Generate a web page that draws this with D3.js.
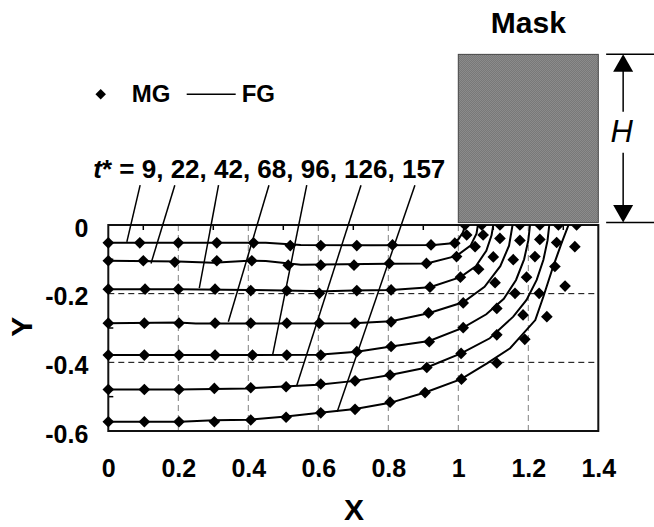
<!DOCTYPE html>
<html>
<head>
<meta charset="utf-8">
<script src="https://cdn.jsdelivr.net/npm/d3@7"></script>
<style>
	body { margin: 0; background: #fff; }
	text { font-family: "Liberation Sans", Arial, sans-serif; font-weight: bold; fill: #000; }
</style>
</head>
<body>
<div id="chart"></div>
<script>
// dimensionless times of the seven fronts
var times = [9, 22, 42, 68, 96, 126, 157];

// MG (markers), one array per front
var mgX = [
	[0, 0.09, 0.2, 0.31, 0.415, 0.52, 0.607, 0.71, 0.812, 0.922, 0.99, 1.024, 1.019],
	[0, 0.1, 0.19, 0.31, 0.41, 0.514, 0.607, 0.702, 0.803, 0.909, 0.995, 1.048, 1.071, 1.067],
	[0, 0.105, 0.2, 0.305, 0.407, 0.51, 0.603, 0.71, 0.808, 0.919, 1.006, 1.058, 1.1, 1.119, 1.119],
	[0, 0.103, 0.202, 0.305, 0.407, 0.51, 0.603, 0.705, 0.808, 0.915, 1.014, 1.105, 1.157, 1.176, 1.176],
	[0, 0.103, 0.202, 0.305, 0.412, 0.51, 0.607, 0.71, 0.808, 0.917, 1.014, 1.11, 1.162, 1.195, 1.219, 1.233, 1.233],
	[0, 0.103, 0.202, 0.303, 0.407, 0.508, 0.607, 0.705, 0.805, 0.91, 1.008, 1.11, 1.185, 1.231, 1.276, 1.281, 1.286],
	[0, 0.103, 0.202, 0.303, 0.407, 0.508, 0.607, 0.705, 0.805, 0.905, 1.009, 1.11, 1.19, 1.253, 1.305, 1.333, 1.338]
];
var mgY = [
	[-0.052, -0.052, -0.052, -0.052, -0.052, -0.06, -0.06, -0.06, -0.058, -0.058, -0.053, -0.029, 0],
	[-0.104, -0.104, -0.108, -0.104, -0.104, -0.117, -0.117, -0.117, -0.112, -0.112, -0.092, -0.063, -0.029, 0],
	[-0.187, -0.187, -0.187, -0.187, -0.191, -0.191, -0.199, -0.191, -0.189, -0.181, -0.152, -0.129, -0.093, -0.039, 0],
	[-0.286, -0.286, -0.286, -0.286, -0.286, -0.286, -0.286, -0.286, -0.282, -0.256, -0.227, -0.168, -0.101, -0.045, 0],
	[-0.379, -0.379, -0.379, -0.379, -0.379, -0.379, -0.379, -0.369, -0.354, -0.34, -0.299, -0.243, -0.199, -0.152, -0.092, -0.042, 0],
	[-0.479, -0.479, -0.479, -0.476, -0.474, -0.471, -0.463, -0.454, -0.437, -0.415, -0.374, -0.32, -0.262, -0.199, -0.121, -0.051, 0],
	[-0.573, -0.573, -0.573, -0.573, -0.568, -0.56, -0.547, -0.537, -0.516, -0.488, -0.449, -0.402, -0.333, -0.267, -0.178, -0.063, 0]
];

// FG (lines), one array per front
var fgX = [
	[0, 0.2, 0.45, 0.55, 0.75, 0.93, 0.975, 1.0, 1.013, 1.02],
	[0, 0.2, 0.3, 0.4, 0.45, 0.55, 0.8, 0.91, 0.995, 1.035, 1.052, 1.056],
	[0, 0.2, 0.4, 0.5, 0.62, 0.7, 0.808, 0.919, 1.006, 1.05, 1.08, 1.095, 1.1],
	[0, 0.2, 0.25, 0.4, 0.7, 0.808, 0.915, 1.014, 1.075, 1.12, 1.145, 1.155],
	[0, 0.3, 0.6, 0.71, 0.808, 0.917, 1.014, 1.08, 1.13, 1.165, 1.188, 1.2, 1.205],
	[0, 0.2, 0.4, 0.6, 0.705, 0.805, 0.91, 1.008, 1.09, 1.157, 1.195, 1.224, 1.243, 1.255, 1.26],
	[0, 0.205, 0.302, 0.405, 0.508, 0.605, 0.705, 0.805, 0.905, 1.008, 1.082, 1.148, 1.22, 1.243, 1.271, 1.295, 1.315]
];
var fgY = [
	[-0.052, -0.052, -0.052, -0.058, -0.059, -0.058, -0.054, -0.042, -0.022, 0],
	[-0.104, -0.106, -0.11, -0.104, -0.105, -0.116, -0.113, -0.112, -0.09, -0.06, -0.025, 0],
	[-0.187, -0.187, -0.189, -0.191, -0.193, -0.191, -0.189, -0.181, -0.152, -0.12, -0.075, -0.03, 0],
	[-0.286, -0.284, -0.287, -0.287, -0.286, -0.28, -0.257, -0.225, -0.18, -0.12, -0.06, 0],
	[-0.379, -0.379, -0.378, -0.369, -0.354, -0.338, -0.299, -0.26, -0.215, -0.16, -0.1, -0.045, 0],
	[-0.479, -0.479, -0.476, -0.465, -0.454, -0.437, -0.415, -0.374, -0.33, -0.267, -0.218, -0.16, -0.102, -0.045, 0],
	[-0.573, -0.573, -0.569, -0.567, -0.558, -0.547, -0.536, -0.518, -0.488, -0.449, -0.403, -0.359, -0.277, -0.209, -0.121, -0.053, 0]
];

// leader lines from the t* label down to each front
var leaderTopX = [0.091, 0.19, 0.315, 0.459, 0.567, 0.722, 0.876];
var leaderTopY = 0.116;
var leaderEndX = [0.053, 0.122, 0.26, 0.343, 0.47, 0.538, 0.654];
var leaderEndY = [-0.049, -0.112, -0.184, -0.282, -0.376, -0.469, -0.544];

var xTicks = [0, 0.2, 0.4, 0.6, 0.8, 1, 1.2, 1.4];
var yTicks = [0, -0.2, -0.4, -0.6];
var xGrid = [0.2, 0.4, 0.6, 0.8, 1, 1.2];
var yGrid = [-0.2, -0.4];
var minorX = [0.1, 0.3, 0.5, 0.7, 0.9, 1.1, 1.3];
var minorY = [-0.1, -0.3, -0.5];

// mask sits on top of the surface, from x = 1 to 1.4, height H
var maskX = [1, 1.4];
var maskY = [0.007, 0.497];
var arrowX = 1.471;

var width = 654, height = 527;
var margin = {top: 225, right: 55.7, bottom: 96, left: 108.3};
var w = width - margin.left - margin.right;
var h = height - margin.top - margin.bottom;

var x = d3.scaleLinear().domain([0, 1.4]).range([0, w]);
var y = d3.scaleLinear().domain([-0.6, 0]).range([h, 0]);

var svg = d3.select("#chart")
	.append("svg")
		.attr("width", width)
		.attr("height", height)
	.append("g")
		.attr("transform", "translate(" + margin.left + "," + margin.top + ")");

var defs = svg.append("defs");
defs.append("clipPath")
	.attr("id", "plot-area")
	.append("rect")
	.attr("x", -8).attr("y", 0).attr("width", w + 8).attr("height", h + 8);

var pat = defs.append("pattern")
	.attr("id", "hatch")
	.attr("width", 2).attr("height", 2)
	.attr("patternUnits", "userSpaceOnUse");
pat.append("rect").attr("width", 2).attr("height", 2).attr("fill", "#999");
pat.append("rect").attr("width", 1).attr("height", 1).attr("fill", "#6a6a6a");
pat.append("rect").attr("x", 1).attr("y", 1).attr("width", 1).attr("height", 1).attr("fill", "#6a6a6a");

// grid
svg.selectAll(".vgrid").data(xGrid).enter().append("line")
	.attr("x1", x).attr("x2", x).attr("y1", 0).attr("y2", h)
	.attr("stroke", "#808080").attr("stroke-width", 1).attr("stroke-dasharray", "6,4");
svg.selectAll(".hgrid").data(yGrid).enter().append("line")
	.attr("x1", 0).attr("x2", w).attr("y1", y).attr("y2", y)
	.attr("stroke", "#000").attr("stroke-width", 1).attr("stroke-dasharray", "6,4");

// minor ticks, pointing into the plot
svg.selectAll(".mtx").data(minorX).enter().append("line")
	.attr("x1", x).attr("x2", x).attr("y1", 0).attr("y2", 5)
	.attr("stroke", "#000").attr("stroke-width", 1.5);
svg.selectAll(".mty").data(minorY).enter().append("line")
	.attr("x1", 0).attr("x2", 5).attr("y1", y).attr("y2", y)
	.attr("stroke", "#000").attr("stroke-width", 1.5);

// frame
svg.append("rect")
	.attr("x", 0).attr("y", 0).attr("width", w).attr("height", h)
	.attr("fill", "none").attr("stroke", "#111").attr("stroke-width", 2);

// fronts
var fronts = times.map(function(t, i) {
	return {
		t: t,
		fg: fgX[i].map(function(v, j) { return [v, fgY[i][j]]; }),
		mg: mgX[i].map(function(v, j) { return [v, mgY[i][j]]; })
	};
});

var chartGroup = svg.append("g").attr("clip-path", "url(#plot-area)");
var line = d3.line().x(function(d) { return x(d[0]); }).y(function(d) { return y(d[1]); });

chartGroup.selectAll(".fg").data(fronts).enter().append("path")
	.attr("d", function(d) { return line(d.fg); })
	.attr("fill", "none").attr("stroke", "#000").attr("stroke-width", 2);

var diamond = d3.symbol().type(d3.symbolSquare).size(68);
chartGroup.selectAll(".mg").data(fronts).enter().append("g")
	.selectAll("path").data(function(d) { return d.mg; }).enter().append("path")
	.attr("d", diamond)
	.attr("transform", function(d) { return "translate(" + x(d[0]) + "," + y(d[1]) + ") rotate(45)"; })
	.attr("fill", "#000");

// leaders
svg.selectAll(".leader").data(leaderTopX).enter().append("line")
	.attr("x1", function(d) { return x(d); })
	.attr("y1", y(leaderTopY))
	.attr("x2", function(d, i) { return x(leaderEndX[i]); })
	.attr("y2", function(d, i) { return y(leaderEndY[i]); })
	.attr("stroke", "#000").attr("stroke-width", 1.5);

// mask
svg.append("rect")
	.attr("x", x(maskX[0])).attr("y", y(maskY[1]))
	.attr("width", x(maskX[1]) - x(maskX[0]))
	.attr("height", y(maskY[0]) - y(maskY[1]))
	.attr("fill", "url(#hatch)").attr("stroke", "#444").attr("stroke-width", 1);

svg.append("text")
	.attr("x", x((maskX[0] + maskX[1]) / 2)).attr("y", 33 - margin.top)
	.attr("text-anchor", "middle").style("font-size", "30px")
	.text("Mask");

// H dimension
var ax = x(arrowX), aTop = y(maskY[1]), aBot = y(maskY[0]);
svg.selectAll(".ext").data([aTop, aBot]).enter().append("line")
	.attr("x1", ax - 17).attr("x2", width - margin.left).attr("y1", function(d) { return d; }).attr("y2", function(d) { return d; })
	.attr("stroke", "#000").attr("stroke-width", 1.5);
svg.append("line").attr("x1", ax).attr("x2", ax).attr("y1", aTop + 10).attr("y2", 111.7 - margin.top)
	.attr("stroke", "#000").attr("stroke-width", 1.5);
svg.append("line").attr("x1", ax).attr("x2", ax).attr("y1", 152.7 - margin.top).attr("y2", aBot - 10)
	.attr("stroke", "#000").attr("stroke-width", 1.5);
svg.append("path")
	.attr("d", "M" + ax + "," + aTop + "l-10,17.5h20z")
	.attr("fill", "#000");
svg.append("path")
	.attr("d", "M" + ax + "," + aBot + "l-10,-17.5h20z")
	.attr("fill", "#000");
svg.append("text")
	.attr("x", ax - 1.5).attr("y", 141.7 - margin.top)
	.attr("text-anchor", "middle")
	.style("font-size", "31px").style("font-weight", "normal").style("font-style", "italic")
	.text("H");

// axes labels
var xAxis = d3.axisBottom(x).tickValues(xTicks).tickSize(0).tickPadding(28)
	.tickFormat(function(d) { return String(d); });
svg.append("g").attr("transform", "translate(0," + h + ")").call(xAxis)
	.call(function(g) { g.select(".domain").remove(); })
	.selectAll("text").attr("font-family", null).style("font-size", "25px").attr("fill", "#000");

var yAxis = d3.axisLeft(y).tickValues(yTicks).tickSize(0).tickPadding(20)
	.tickFormat(function(d) { return String(d); });
svg.append("g").call(yAxis)
	.call(function(g) { g.select(".domain").remove(); })
	.selectAll("text").attr("font-family", null).attr("dy", "0.45em").style("font-size", "25px").attr("fill", "#000");

svg.append("text")
	.attr("x", 354 - margin.left).attr("y", 520 - margin.top)
	.attr("text-anchor", "middle").style("font-size", "30px")
	.text("X");
svg.append("text")
	.attr("transform", "translate(" + (31.7 - margin.left) + "," + (326.7 - margin.top) + ") rotate(-90)")
	.attr("text-anchor", "middle").style("font-size", "30px")
	.text("Y");

// legend
var legend = svg.append("g").attr("transform", "translate(" + (-margin.left) + "," + (-margin.top) + ")");
legend.append("path").attr("d", diamond)
	.attr("transform", "translate(100.7,94.3) rotate(45) scale(0.9)").attr("fill", "#000");
legend.append("text").attr("x", 131.7).attr("y", 101.5).style("font-size", "24px").text("MG");
legend.append("line").attr("x1", 186.7).attr("x2", 235.7).attr("y1", 94.3).attr("y2", 94.3)
	.attr("stroke", "#000").attr("stroke-width", 1.5);
legend.append("text").attr("x", 241.7).attr("y", 101.5).style("font-size", "24px").text("FG");

var tLabel = legend.append("text").attr("x", 93.3).attr("y", 178.3).style("font-size", "26px");
tLabel.append("tspan").style("font-style", "italic").text("t");
tLabel.append("tspan").text("* = " + times.join(", "));
</script>
</body>
</html>
